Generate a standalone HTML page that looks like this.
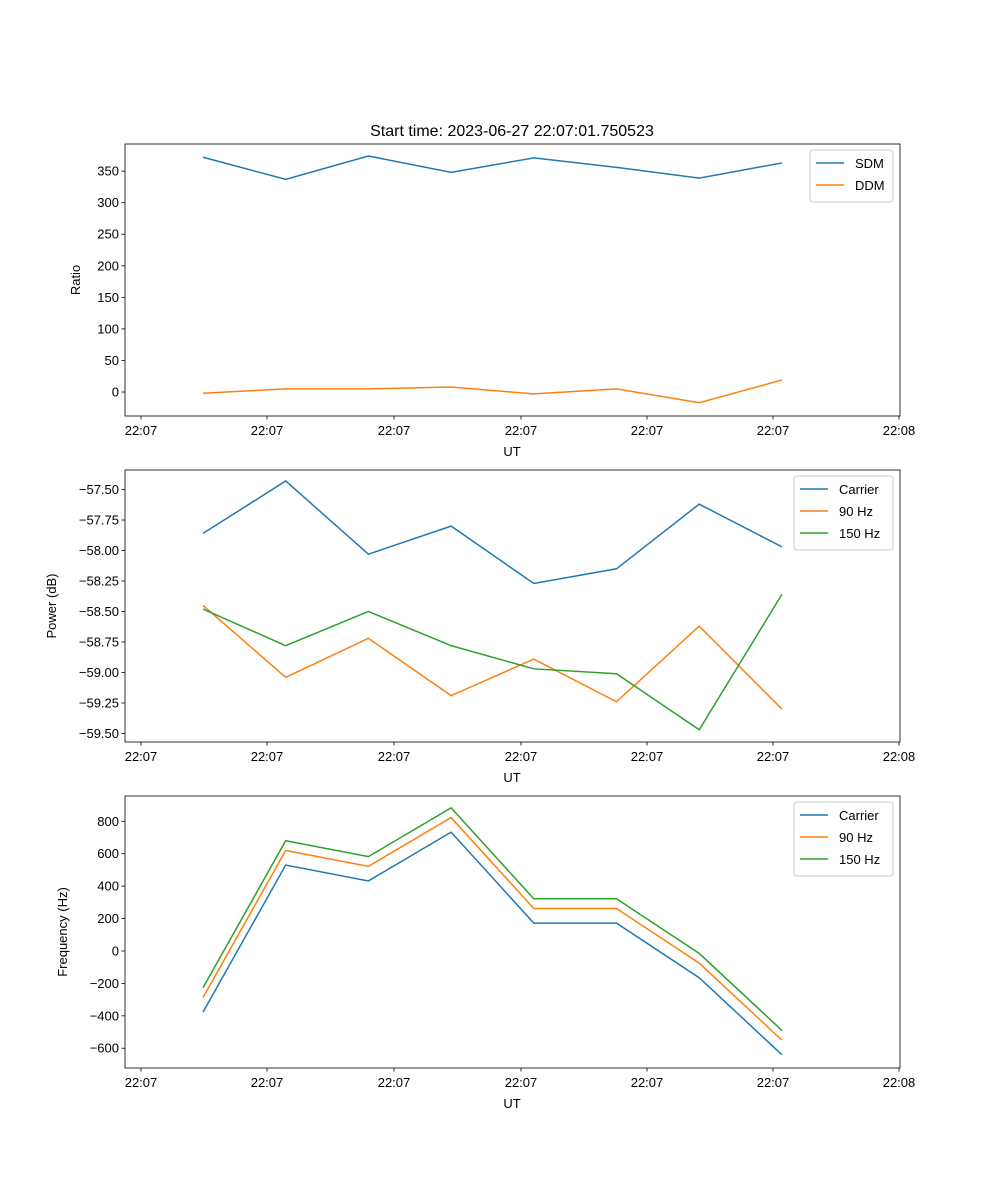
<!DOCTYPE html>
<html><head><meta charset="utf-8"><style>
html,body{margin:0;padding:0;background:#fff;}
svg{display:block;font-family:"Liberation Sans","DejaVu Sans",sans-serif;}
</style></head><body>
<svg id="fig" width="1000" height="1200" viewBox="0 0 1000 1200">
<rect width="1000" height="1200" fill="#fff"/>
<text x="512" y="136" font-size="16" text-anchor="middle">Start time: 2023-06-27 22:07:01.750523</text>
</svg>
<script>
// shared x categories (sample index)
const xIdx = [0,1,2,3,4,5,6,7];
const xTickLabels = ["22:07","22:07","22:07","22:07","22:07","22:07","22:08"];
// panel 1 data
const sdm = [372,337,374,348,371,356,339,363];
const ddm = [-2,5,5,8,-3,5,-17,19];
const ratioTicks = [0,50,100,150,200,250,300,350];
// panel 2 data
const powCarrier = [-57.86,-57.43,-58.03,-57.80,-58.27,-58.15,-57.62,-57.97];
const pow90 = [-58.45,-59.04,-58.72,-59.19,-58.89,-59.24,-58.62,-59.30];
const pow150 = [-58.48,-58.78,-58.50,-58.78,-58.97,-59.01,-59.47,-58.36];
const powTicks = [-57.50,-57.75,-58.00,-58.25,-58.50,-58.75,-59.00,-59.25,-59.50];
// panel 3 data
const freqCarrier = [-377,530,432,733,172,172,-165,-640];
const freq90 = [-287,620,522,823,262,262,-75,-550];
const freq150 = [-227,680,582,883,322,322,-15,-490];
const freqTicks = [-600,-400,-200,0,200,400,600,800];

const NS="http://www.w3.org/2000/svg";
const svg=document.getElementById('fig');
const C1="#1f77b4",C2="#ff7f0e",C3="#2ca02c";
function mk(tag,attrs,parent){const e=document.createElementNS(NS,tag);for(const k in attrs)e.setAttribute(k,attrs[k]);(parent||svg).appendChild(e);return e;}
// x axis: index -> px (x ticks at -0.5 step 1.5 units approx)
const L=125,R=900;
function xs(i){return 203+i*82.7;}
const xTickPos=[141,267,394,521,647,773,899];

function panel(name,top,bot,ymin,ymax,ticks,fmt,ylabel,series,legend){
  const g=mk('g',{});
  
  
  const ys=v=>bot-(v-ymin)/(ymax-ymin)*(bot-top);
  series.forEach(s=>{
    const p=mk('polyline',{points:s.vals.map((v,i)=>xs(xIdx[i])+','+ys(v)).join(' '),fill:'none',stroke:s.color,'stroke-width':1.5},g);
    
    
  });
  mk('rect',{x:L,y:top,width:R-L,height:bot-top,fill:'none',stroke:'#000','stroke-width':0.8},g);
  ticks.forEach(t=>{
    const y=ys(t);
    mk('line',{x1:L-3.5,x2:L,y1:y,y2:y,stroke:'#000','stroke-width':0.8},g);
    const tx=mk('text',{x:L-6,y:y+4.5,'font-size':13,'text-anchor':'end'},g);
    tx.textContent=fmt(t);
    
    
  });
  xTickPos.forEach((x,i)=>{
    mk('line',{x1:x,x2:x,y1:bot,y2:bot+3.5,stroke:'#000','stroke-width':0.8},g);
    const tx=mk('text',{x:x,y:bot+19,'font-size':13,'text-anchor':'middle'},g);
    tx.textContent=xTickLabels[i];
    
    
  });
  const xl=mk('text',{x:512,y:bot+40,'font-size':13,'text-anchor':'middle'},g);
  xl.textContent='UT';
  
  
  const yl=mk('text',{x:0,y:0,'font-size':13,'text-anchor':'middle',transform:`translate(${legend.ylx},${(top+bot)/2}) rotate(-90)`},g);
  yl.textContent=ylabel;
  
  
  const lg=mk('g',{},g);
  
  
  mk('rect',{x:legend.x,y:top+6,width:legend.w,height:8+series.length*22,fill:'#fff',stroke:'#ccc',rx:3},lg);
  series.forEach((s,i)=>{
    const y=top+19+i*22;
    mk('line',{x1:legend.x+6,x2:legend.x+34,y1:y,y2:y,stroke:s.color,'stroke-width':1.5},lg);
    const t=mk('text',{x:legend.x+45,y:y+5,'font-size':13},lg);
    t.textContent=s.label;
    
    
  });
}
panel('ratio-panel',144,416,-38,393,ratioTicks,v=>String(v),'Ratio',
  [{vals:sdm,color:C1,name:'sdm-line',label:'SDM'},{vals:ddm,color:C2,name:'ddm-line',label:'DDM'}],{x:810,w:83,ylx:80});
panel('power-panel',470,742,-59.57,-57.34,powTicks,v=>v.toFixed(2).replace('-','\u2212'),'Power (dB)',
  [{vals:powCarrier,color:C1,name:'carrier-power-line',label:'Carrier'},{vals:pow90,color:C2,name:'90hz-power-line',label:'90 Hz'},{vals:pow150,color:C3,name:'150hz-power-line',label:'150 Hz'}],{x:794,w:99,ylx:56});
panel('frequency-panel',796,1068,-722,956,freqTicks,v=>String(v).replace('-','\u2212'),'Frequency (Hz)',
  [{vals:freqCarrier,color:C1,name:'carrier-freq-line',label:'Carrier'},{vals:freq90,color:C2,name:'90hz-freq-line',label:'90 Hz'},{vals:freq150,color:C3,name:'150hz-freq-line',label:'150 Hz'}],{x:794,w:99,ylx:67});
</script>
</body></html>
